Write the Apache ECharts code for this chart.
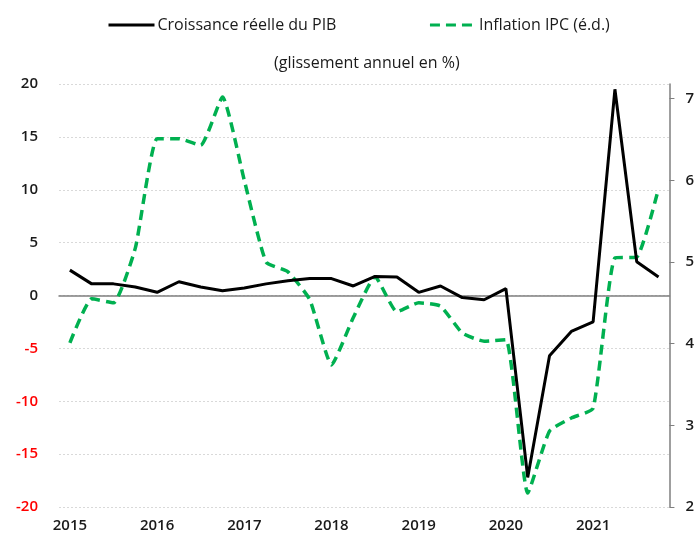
<!DOCTYPE html>
<html>
<head>
<meta charset="utf-8">
<script src="https://cdn.jsdelivr.net/npm/echarts@6/dist/echarts.min.js"></script>
<style>
  html, body { margin: 0; padding: 0; background: #fff; }
  #chart { width: 697px; height: 534px; }
</style>
</head>
<body>
<div id="chart"></div>
<script>
// trimestres 2015T1 .. 2021T4
var quarters = [
  "2015T1", "2015T2", "2015T3", "2015T4",
  "2016T1", "2016T2", "2016T3", "2016T4",
  "2017T1", "2017T2", "2017T3", "2017T4",
  "2018T1", "2018T2", "2018T3", "2018T4",
  "2019T1", "2019T2", "2019T3", "2019T4",
  "2020T1", "2020T2", "2020T3", "2020T4",
  "2021T1", "2021T2", "2021T3", "2021T4"
];
// croissance réelle du PIB (axe gauche)
var pib = [
  2.4, 1.1, 1.1, 0.8,
  0.3, 1.3, 0.8, 0.45,
  0.7, 1.1, 1.4, 1.6,
  1.6, 0.9, 1.8, 1.75,
  0.3, 0.9, -0.2, -0.4,
  0.65, -17.2, -5.7, -3.4,
  -2.5, 19.5, 3.2, 1.75
];
// inflation IPC (axe droit)
var ipc = [
  4.01, 4.55, 4.50, 5.17,
  6.51, 6.51, 6.43, 7.02,
  6.0, 5.0, 4.88, 4.54,
  3.74, 4.32, 4.82, 4.39,
  4.50, 4.46, 4.13, 4.03,
  4.05, 2.17, 2.93, 3.09,
  3.21, 5.05, 5.06, 5.9
];
var rightTicks = [2, 3, 4, 5, 6, 7];

var font = "Open Sans";
var chart = echarts.init(document.getElementById("chart"));
var option = {
  animation: false,
  textStyle: { fontFamily: font },
  title: {
    text: "(glissement annuel en %)",
    left: 269,
    top: 50,
    textStyle: { fontFamily: font, fontSize: 16, fontWeight: 500, color: "#1a1a1a" }
  },
  legend: {
    left: 102,
    top: 12,
    itemWidth: 46,
    itemHeight: 14,
    itemGap: 92,
    itemStyle: { opacity: 0 },
    lineStyle: { width: 3 },
    textStyle: { fontFamily: font, fontSize: 16, fontWeight: 500, color: "#1a1a1a", padding: [0, 0, 0, -2] },
    data: ["Croissance réelle du PIB", "Inflation IPC (é.d.)"]
  },
  grid: { left: 59, right: 26, top: 84, bottom: 27 },
  xAxis: [{
    type: "category",
    data: quarters,
    boundaryGap: true,
    axisLine: { onZero: true, lineStyle: { color: "#7f7f7f", width: 1.5 } },
    axisTick: { interval: 3, length: 5, lineStyle: { color: "#7f7f7f" } },
    axisLabel: { show: false }
  }, {
    type: "category",
    data: quarters,
    position: "bottom",
    boundaryGap: true,
    axisLine: { show: false, onZero: false },
    axisTick: { show: false },
    axisLabel: {
      interval: 3,
      margin: 11,
      fontSize: 15,
      fontWeight: 600,
      color: "#1a1a1a",
      formatter: function (v) { return v.slice(0, 4); }
    }
  }],
  yAxis: [{
    type: "value",
    min: -20,
    max: 20,
    interval: 5,
    axisLine: { show: false },
    axisTick: { show: false },
    splitLine: { lineStyle: { color: "#d9d9d9", type: [2, 2] } },
    axisLabel: {
      margin: 21,
      fontSize: 15,
      fontWeight: 600,
      color: function (v) { return Number(v) < 0 ? "#ff0000" : "#1a1a1a"; }
    }
  }, {
    type: "value",
    min: 2,
    max: 7.18,
    interval: 1,
    position: "right",
    axisLine: { show: true, lineStyle: { color: "#7f7f7f", width: 1.5 } },
    axisTick: { show: true, length: 5, customValues: rightTicks, lineStyle: { color: "#7f7f7f" } },
    splitLine: { show: false },
    axisLabel: {
      margin: 16,
      fontSize: 15,
      fontWeight: 600,
      color: "#1a1a1a",
      customValues: rightTicks
    }
  }],
  series: [{
    name: "Croissance réelle du PIB",
    type: "line",
    data: pib,
    symbol: "none",
    z: 3,
    lineStyle: { color: "#000000", width: 3 },
    itemStyle: { color: "#000000" }
  }, {
    name: "Inflation IPC (é.d.)",
    type: "line",
    yAxisIndex: 1,
    data: ipc,
    symbol: "none",
    smooth: 0.15,
    z: 2,
    lineStyle: { color: "#00b050", width: 3.5, type: [10, 6] },
    itemStyle: { color: "#00b050" }
  }]
};
chart.setOption(option);
</script>
</body>
</html>
